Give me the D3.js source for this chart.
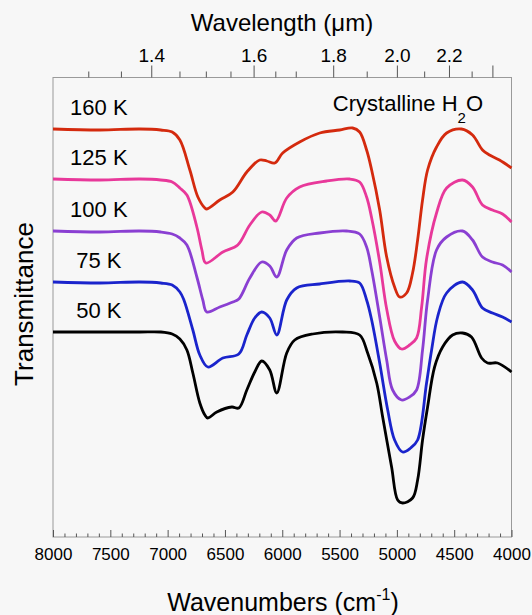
<!DOCTYPE html>
<html>
<head>
<meta charset="utf-8">
<script src="https://cdn.jsdelivr.net/npm/d3@7"></script>
<style>
  html, body { margin: 0; padding: 0; background: #f7f7f7; }
  svg { display: block; font-family: "Liberation Sans", Arial, Helvetica, sans-serif; }
  .axis text { fill: #000; }
  .axis line { stroke: #555; }
</style>
</head>
<body>
<div id="chart"></div>
<script>
// spectra: [wavenumber cm-1, transmittance (offset, arbitrary units)]
var spec_50K = [
  [8000, 2.05], [7590, 2.05], [7242, 2.05], [7060, 2.05], [6960, 2.03], [6893, 1.98],
  [6832, 1.87], [6780, 1.64], [6719, 1.34], [6675, 1.22], [6649, 1.19], [6571, 1.25],
  [6440, 1.30], [6379, 1.29], [6309, 1.47], [6240, 1.65], [6179, 1.76], [6109, 1.67],
  [6048, 1.44], [5961, 1.84], [5891, 1.97], [5734, 2.03], [5473, 2.05], [5325, 2.02],
  [5255, 1.84], [5176, 1.54], [5124, 1.20], [5046, 0.70], [4993, 0.37], [4950, 0.34],
  [4863, 0.39], [4819, 0.57], [4776, 0.97], [4732, 1.30], [4671, 1.70], [4601, 1.90],
  [4514, 2.02], [4427, 2.04], [4349, 2.00], [4261, 1.79], [4209, 1.74], [4122, 1.74],
  [4000, 1.65]
]
var spec_75K = [
  [8000, 2.55], [7590, 2.54], [7242, 2.55], [7060, 2.54], [6960, 2.52], [6893, 2.45],
  [6858, 2.37], [6780, 2.07], [6719, 1.82], [6649, 1.70], [6518, 1.79], [6379, 1.83],
  [6309, 2.02], [6240, 2.19], [6179, 2.25], [6109, 2.19], [6048, 2.02], [5961, 2.37],
  [5874, 2.49], [5673, 2.53], [5412, 2.56], [5325, 2.54], [5264, 2.37], [5220, 2.17],
  [5150, 1.74], [5080, 1.27], [5020, 0.97], [4950, 0.85], [4880, 0.89], [4819, 0.97],
  [4741, 1.54], [4697, 1.87], [4645, 2.20], [4566, 2.44], [4427, 2.55], [4340, 2.47],
  [4253, 2.29], [4166, 2.24], [4078, 2.20], [4000, 2.15]
]
var spec_100K = [
  [8000, 3.06], [7590, 3.05], [7242, 3.06], [7060, 3.05], [6960, 3.03], [6893, 2.99],
  [6832, 2.92], [6745, 2.60], [6693, 2.37], [6658, 2.25], [6545, 2.30], [6431, 2.35],
  [6379, 2.38], [6283, 2.59], [6179, 2.75], [6109, 2.71], [6048, 2.60], [5961, 2.87],
  [5874, 2.99], [5673, 3.04], [5438, 3.06], [5325, 3.03], [5264, 2.90], [5220, 2.67],
  [5150, 2.20], [5089, 1.77], [5037, 1.47], [4959, 1.37], [4889, 1.40], [4828, 1.47],
  [4776, 1.87], [4732, 2.37], [4654, 2.87], [4566, 3.00], [4427, 3.06], [4340, 2.97],
  [4253, 2.80], [4166, 2.75], [4078, 2.72], [4000, 2.65]
]
var spec_125K = [
  [8000, 3.58], [7590, 3.57], [7242, 3.58], [7060, 3.57], [6960, 3.55], [6893, 3.49],
  [6832, 3.42], [6745, 3.10], [6701, 2.87], [6667, 2.74], [6518, 2.85], [6388, 2.92],
  [6283, 3.12], [6179, 3.25], [6109, 3.22], [6057, 3.16], [5961, 3.39], [5848, 3.50],
  [5612, 3.56], [5412, 3.58], [5325, 3.55], [5264, 3.40], [5220, 3.19], [5150, 2.75],
  [5089, 2.28], [5020, 1.96], [4959, 1.88], [4889, 1.92], [4828, 1.99], [4784, 2.30],
  [4741, 2.78], [4654, 3.24], [4566, 3.49], [4427, 3.57], [4340, 3.50], [4253, 3.32],
  [4166, 3.27], [4078, 3.23], [4000, 3.15]
]
var spec_160K = [
  [8000, 4.08], [7590, 4.07], [7242, 4.08], [7060, 4.07], [6960, 4.05], [6893, 3.97],
  [6806, 3.67], [6736, 3.40], [6675, 3.29], [6658, 3.28], [6545, 3.37], [6431, 3.45],
  [6309, 3.65], [6196, 3.77], [6135, 3.76], [6065, 3.74], [5996, 3.84], [5848, 3.95],
  [5673, 4.04], [5499, 4.07], [5386, 4.09], [5325, 4.05], [5264, 3.87], [5220, 3.67],
  [5150, 3.27], [5089, 2.80], [5020, 2.50], [4976, 2.40], [4915, 2.44], [4863, 2.64],
  [4819, 2.97], [4776, 3.37], [4732, 3.67], [4654, 3.90], [4566, 4.04], [4436, 4.08],
  [4340, 4.02], [4253, 3.87], [4192, 3.82], [4105, 3.77], [4000, 3.69]
]

var series_names = ['160 K', '125 K', '100 K', '75 K', '50 K']
var series_colours = ['#d42a0e', '#e8389a', '#8a3fd2', '#1a24cc', '#000000']
var series_values = [spec_160K, spec_125K, spec_100K, spec_75K, spec_50K]

// axis ticks
var wavenumber_major = [8000, 7500, 7000, 6500, 6000, 5500, 5000, 4500, 4000]
var wavelength_labelled = [1.4, 1.6, 1.8, 2.0, 2.2]
var wavelength_major = [1.4, 1.6, 1.8, 2.0, 2.2, 2.4]
var wavelength_minor = [1.3, 1.35, 1.45, 1.5, 1.55, 1.65, 1.7, 1.9, 2.1, 2.3]

var config = {
    width: 532,
    height: 615,
    padding: { top: 77.5, right: 20, bottom: 78, left: 53 }
}

var svg = d3.select('#chart').append('svg')
    .attr('width', config.width)
    .attr('height', config.height)

svg.append('rect')
    .attr('width', config.width)
    .attr('height', config.height)
    .attr('fill', '#f7f7f7')

var xScale = d3.scaleLinear()
    .domain([8000, 4000])
    .range([config.padding.left, config.width - config.padding.right - 0.5])

var yScale = d3.scaleLinear()
    .domain([0, 4.595])
    .range([config.height - config.padding.bottom, config.padding.top])

var x0 = xScale.range()[0], x1 = xScale.range()[1]
var y0 = yScale.range()[0], y1 = yScale.range()[1]

// frame
svg.append('rect')
    .attr('x', x0)
    .attr('y', y1)
    .attr('width', x1 - x0)
    .attr('height', y0 - y1)
    .attr('fill', 'none')
    .attr('stroke', '#9a9a9a')
    .attr('stroke-width', 1)

// bottom axis, ticks inside
var minor_wn = d3.range(8000, 3999, -100).filter(d => d % 500 !== 0)

var xMinor = svg.append('g')
    .attr('class', 'axis')
    .attr('transform', 'translate(0,' + y0 + ')')
    .call(d3.axisBottom(xScale).tickValues(minor_wn).tickSize(-3.5).tickFormat(''))
xMinor.select('.domain').remove()

var xAxis = svg.append('g')
    .attr('class', 'axis')
    .attr('transform', 'translate(0,' + y0 + ')')
    .call(d3.axisBottom(xScale).tickValues(wavenumber_major).tickSize(-7).tickPadding(0).tickFormat(d3.format('d')))
xAxis.select('.domain').remove()
xAxis.selectAll('.tick text')
    .attr('y', 23)
    .attr('dy', 0)
    .style('font-size', '17px')
    .style('font-family', '"Liberation Sans", Arial, sans-serif')

// top axis in wavelength (um), drawn on the wavenumber scale
var lambdaToWn = l => 10000 / l

var topMinor = svg.append('g')
    .attr('class', 'axis')
    .attr('transform', 'translate(0,' + y1 + ')')
    .call(d3.axisTop(xScale).tickValues(wavelength_minor.map(lambdaToWn)).tickSize(6).tickFormat(''))
topMinor.select('.domain').remove()

var topAxis = svg.append('g')
    .attr('class', 'axis')
    .attr('transform', 'translate(0,' + y1 + ')')
    .call(d3.axisTop(xScale)
        .tickValues(wavelength_major.map(lambdaToWn))
        .tickSize(12)
        .tickFormat(function(d) {
            var l = Math.round(10000 / d * 10) / 10
            return wavelength_labelled.indexOf(l) >= 0 ? d3.format('.1f')(l) : ''
        }))
topAxis.select('.domain').remove()
topAxis.selectAll('.tick text')
    .attr('y', -16)
    .attr('dy', 0)
    .style('font-size', '19px')
    .style('font-family', '"Liberation Sans", Arial, sans-serif')

// spectra
var line = d3.line()
    .x(d => xScale(d[0]))
    .y(d => yScale(d[1]))
    .curve(d3.curveCatmullRom.alpha(0.5))

var data_layer = svg.append('g').classed('data-layer', true)

data_layer.selectAll('path')
    .data(series_values)
    .enter()
    .append('path')
    .attr('d', line)
    .attr('fill', 'none')
    .attr('stroke', (d, i) => series_colours[i])
    .attr('stroke-width', 2.8)
    .attr('stroke-linejoin', 'round')

// temperature labels, just above each plateau
data_layer.selectAll('text.temp')
    .data(series_names)
    .enter()
    .append('text')
    .attr('class', 'temp')
    .attr('x', xScale(7600))
    .attr('y', (d, i) => yScale(series_values[i][0][1]) - 14)
    .attr('text-anchor', 'middle')
    .style('font-size', '22px')
    .text(d => d)

// Crystalline H2O
var title = svg.append('text')
    .attr('x', 483)
    .attr('y', 111)
    .attr('text-anchor', 'end')
    .style('font-size', '22px')
title.append('tspan').text('Crystalline H')
title.append('tspan').attr('dy', 12).style('font-size', '15px').text('2')
title.append('tspan').attr('dy', -12).text('O')

// axis titles
svg.append('text')
    .attr('x', 282)
    .attr('y', 31)
    .attr('text-anchor', 'middle')
    .style('font-size', '24px')
    .text('Wavelength (\u03bcm)')

var bottomTitle = svg.append('text')
    .attr('x', 283)
    .attr('y', 611)
    .attr('text-anchor', 'middle')
    .style('font-size', '25px')
bottomTitle.append('tspan').text('Wavenumbers (cm')
bottomTitle.append('tspan').attr('dy', -11).style('font-size', '16px').text('-1')
bottomTitle.append('tspan').attr('dy', 11).text(')')

svg.append('text')
    .attr('transform', 'translate(33,304) rotate(-90)')
    .attr('text-anchor', 'middle')
    .style('font-size', '26px')
    .text('Transmittance')
</script>
</body>
</html>
